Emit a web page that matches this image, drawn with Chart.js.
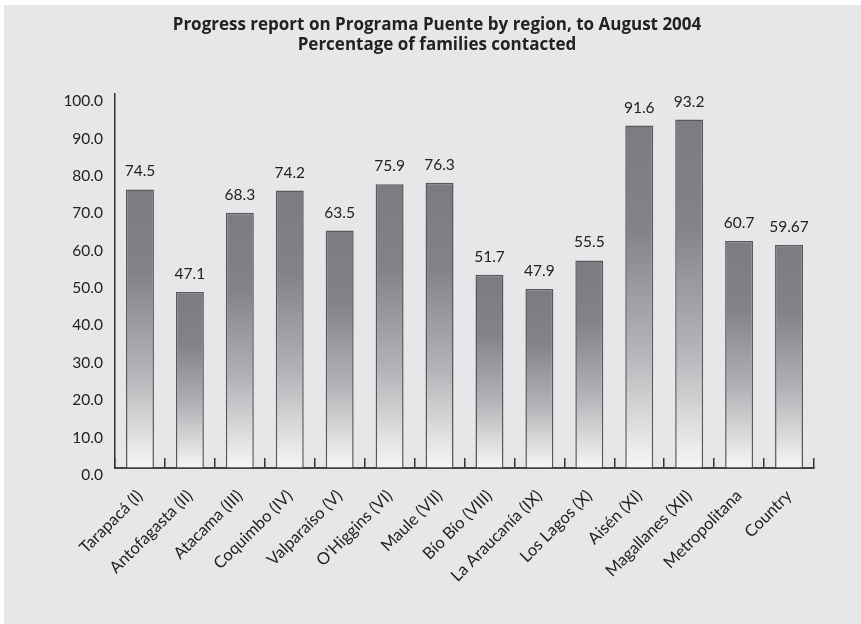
<!DOCTYPE html>
<html>
<head>
<meta charset="utf-8">
<script src="https://cdn.jsdelivr.net/npm/chart.js@4/dist/chart.umd.min.js"></script>
<style>
html,body{margin:0;padding:0;background:#fff;}
#wrap{width:861px;height:624px;position:relative;}
</style>
</head>
<body>
<div id="wrap"><canvas id="c" width="861" height="624"></canvas></div>
<script>
const titleLines = ["Progress report on Programa Puente by region, to August 2004", "Percentage of families contacted"];
const categories = ["Tarapacá (I)", "Antofagasta (II)", "Atacama (III)", "Coquimbo (IV)", "Valparaíso (V)", "O'Higgins (VI)", "Maule (VII)", "Bío Bío (VIII)", "La Araucanía (IX)", "Los Lagos (X)", "Aisén (XI)", "Magallanes (XII)", "Metropolitana", "Country"];
const values = [74.5, 47.1, 68.3, 74.2, 63.5, 75.9, 76.3, 51.7, 47.9, 55.5, 91.6, 93.2, 60.7, 59.67];
const valueLabels = ["74.5", "47.1", "68.3", "74.2", "63.5", "75.9", "76.3", "51.7", "47.9", "55.5", "91.6", "93.2", "60.7", "59.67"];
const yMin = 0, yMax = 100, yStep = 10;

const bgPlugin = {
  id: 'bg',
  beforeDraw(chart) {
    const ctx = chart.ctx;
    ctx.save();
    ctx.fillStyle = '#ffffff';
    ctx.fillRect(0, 0, chart.width, chart.height);
    ctx.fillStyle = '#e6e7e9';
    ctx.fillRect(4, 5, chart.width - 4, chart.height - 5);
    ctx.restore();
  }
};

const valuePlugin = {
  id: 'vals',
  afterDatasetsDraw(chart) {
    const ctx = chart.ctx;
    const meta = chart.getDatasetMeta(0);
    ctx.save();
    ctx.font = '15.5px Lato';
    ctx.fillStyle = '#222';
    ctx.textAlign = 'center';
    ctx.textBaseline = 'middle';
    meta.data.forEach((bar, i) => {
      ctx.fillText(valueLabels[i], bar.x, bar.y - 18);
    });
    ctx.restore();
  }
};

function barGradient(context) {
  const chart = context.chart;
  const ys = chart.scales.y;
  if (!ys || context.dataIndex === undefined) return '#888';
  const top = ys.getPixelForValue(values[context.dataIndex]);
  const bottom = ys.getPixelForValue(0);
  if (!isFinite(top) || !isFinite(bottom)) return '#888';
  const g = chart.ctx.createLinearGradient(0, top, 0, bottom);
  g.addColorStop(0, '#7b7c80');
  g.addColorStop(0.3, '#828387');
  g.addColorStop(0.65, '#b2b3b6');
  g.addColorStop(1, '#f6f6f7');
  return g;
}

new Chart(document.getElementById('c'), {
  type: 'bar',
  data: {
    labels: categories,
    datasets: [{
      data: values,
      backgroundColor: barGradient,
      borderColor: '#58595d',
      borderWidth: 1.5,
      borderSkipped: 'start',
      barPercentage: 0.56,
      categoryPercentage: 1.0
    }]
  },
  options: {
    responsive: false,
    animation: false,
    devicePixelRatio: 1,
    layout: { padding: { left: 60, right: 47, top: 0, bottom: 0 } },
    plugins: {
      legend: { display: false },
      tooltip: { enabled: false },
      title: {
        display: true,
        text: titleLines,
        color: '#222',
        font: { family: 'Open Sans', size: 17, weight: 'bold', lineHeight: 1.18 },
        padding: { top: 15, bottom: 39 }
      }
    },
    scales: {
      x: {
        offset: true,
        grid: {
          display: true,
          offset: true,
          drawOnChartArea: false,
          drawTicks: true,
          tickLength: -10,
          color: '#333',
          lineWidth: 1.5
        },
        border: { display: true, color: '#444', width: 2 },
        ticks: {
          color: '#222',
          font: { family: 'Lato', size: 16.5 },
          maxRotation: 45,
          minRotation: 45,
          autoSkip: false,
          padding: 28
        },
        afterFit(scale) { scale.height = 156; }
      },
      y: {
        min: yMin,
        max: yMax,
        grid: { display: true, drawOnChartArea: false, drawTicks: false },
        border: { display: true, color: '#333', width: 1.5 },
        ticks: {
          stepSize: yStep,
          color: '#222',
          font: { family: 'Lato', size: 15.5 },
          padding: 12,
          labelOffset: 7,
          callback: (v) => Number(v).toFixed(1)
        },
        afterFit(scale) { scale.width = 55; }
      }
    }
  },
  plugins: [bgPlugin, valuePlugin]
});
</script>
</body>
</html>
